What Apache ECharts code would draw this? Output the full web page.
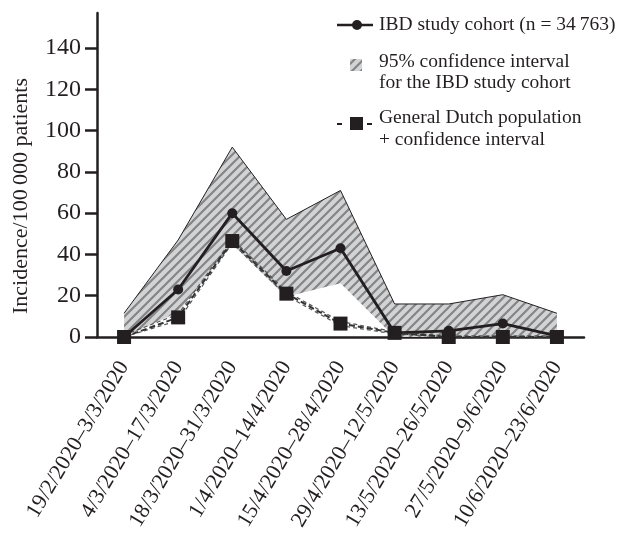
<!DOCTYPE html>
<html>
<head>
<meta charset="utf-8">
<script src="https://cdn.jsdelivr.net/npm/echarts@6/dist/echarts.min.js"></script>
<style>
html,body{margin:0;padding:0;background:#fff}
#chart{width:622px;height:543px}
</style>
</head>
<body>
<div id="chart"></div>
<script>
// two-week periods
var periods = ['19/2/2020–3/3/2020', '4/3/2020–17/3/2020', '18/3/2020–31/3/2020', '1/4/2020–14/4/2020',
  '15/4/2020–28/4/2020', '29/4/2020–12/5/2020', '13/5/2020–26/5/2020', '27/5/2020–9/6/2020', '10/6/2020–23/6/2020'];
// IBD study cohort + 95% CI
var ibdCohort = [0, 23, 60, 32, 43, 2, 3, 6.5, 0.5];
var ibdUpper  = [11.5, 47, 92, 57, 71, 16, 16, 20.5, 11.5];
var ibdLower  = [0, 12, 45, 19.5, 26, 0, 0, 0, 0];
// general Dutch population + CI
var dutchPop   = [0, 9.5, 46.5, 21, 6.5, 2, 0, 0, 0];
var dutchUpper = [1, 11, 47.5, 22, 7.5, 2.5, 0.5, 0.5, 0.5];
var dutchLower = [0, 8, 45.5, 20, 5.5, 1.5, 0, 0, 0];
var yTicks = [0, 20, 40, 60, 80, 100, 120, 140];

var ink = '#231f20';
var serif = '"Liberation Serif", "DejaVu Serif", serif';

// hatch pattern for the CI band
var hatch = document.createElement('canvas');
hatch.width = 9; hatch.height = 9;
var ctx = hatch.getContext('2d');
ctx.fillStyle = '#d2d3d5';
ctx.fillRect(0, 0, 9, 9);
ctx.strokeStyle = '#858585';
ctx.lineWidth = 2.2;
ctx.beginPath();
ctx.moveTo(0, 9); ctx.lineTo(9, 0);
ctx.moveTo(-4.5, 4.5); ctx.lineTo(4.5, -4.5);
ctx.moveTo(4.5, 13.5); ctx.lineTo(13.5, 4.5);
ctx.stroke();
var hatchFill = {image: hatch, repeat: 'repeat'};

// band height for stacking
var bandSize = ibdUpper.map(function(v, i){ return v - ibdLower[i]; });

var myChart = echarts.init(document.getElementById('chart'));
var option = {
  animation: false,
  grid: {left: 97, right: 38, top: 13, bottom: 206},
  xAxis: {
    type: 'category',
    data: periods,
    boundaryGap: true,
    axisLine: {lineStyle: {color: ink, width: 2.5}},
    axisTick: {alignWithLabel: true, length: 11, lineStyle: {color: ink, width: 2.5}},
    axisLabel: {rotate: 59, margin: 26, interval: 0, color: ink, fontFamily: serif, fontSize: 22}
  },
  yAxis: {
    type: 'value',
    min: 0,
    max: 157,
    splitLine: {show: false},
    axisLine: {show: true, lineStyle: {color: ink, width: 2.5}},
    axisTick: {show: true, length: 12, customValues: yTicks, lineStyle: {color: ink, width: 2.5}},
    axisLabel: {margin: 16, customValues: yTicks, color: ink, fontFamily: serif, fontSize: 24}
  },
  series: [
    {
      name: 'lowerCI', type: 'line', stack: 'ci', data: ibdLower,
      symbol: 'none', lineStyle: {opacity: 0}, silent: true
    },
    {
      name: '95% CI', type: 'line', stack: 'ci', data: bandSize,
      symbol: 'none', lineStyle: {color: ink, width: 1}, areaStyle: {color: hatchFill, opacity: 1}
    },
    {
      name: 'dutchUpper', type: 'line', data: dutchUpper, symbol: 'none',
      lineStyle: {color: '#555', width: 1.2, type: [4, 3]}
    },
    {
      name: 'dutchLower', type: 'line', data: dutchLower, symbol: 'none',
      lineStyle: {color: '#555', width: 1.2, type: [4, 3]}
    },
    {
      name: 'IBD study cohort', type: 'line', data: ibdCohort,
      symbol: 'circle', symbolSize: 10,
      lineStyle: {color: ink, width: 2.8}, itemStyle: {color: ink}
    },
    {
      name: 'General Dutch population', type: 'line', data: dutchPop,
      symbol: 'rect', symbolSize: 14,
      lineStyle: {color: '#333', width: 2, type: [6, 3]}, itemStyle: {color: ink}
    }
  ],
  graphic: [
    // y axis title
    {type: 'text', x: 21, y: 196, rotation: Math.PI / 2,
      style: {text: 'Incidence/100\u2009000 patients', fill: ink, font: '22px ' + serif, align: 'center', verticalAlign: 'middle'}},
    // legend
    {type: 'line', shape: {x1: 337, y1: 25, x2: 373, y2: 25}, style: {stroke: ink, lineWidth: 2.5}},
    {type: 'circle', shape: {cx: 357, cy: 25, r: 5}, style: {fill: ink}},
    {type: 'text', x: 379, y: 25,
      style: {text: 'IBD study cohort (n = 34\u2009763)', fill: ink, font: '19.5px ' + serif, verticalAlign: 'middle'}},
    {type: 'rect', shape: {x: 350, y: 59, width: 12, height: 12}, style: {fill: hatchFill}},
    {type: 'text', x: 379, y: 51,
      style: {text: '95% confidence interval\nfor the IBD study cohort', fill: ink, font: '19.5px ' + serif, lineHeight: 21, verticalAlign: 'top'}},
    {type: 'line', shape: {x1: 337, y1: 124, x2: 342, y2: 124}, style: {stroke: ink, lineWidth: 2}},
    {type: 'rect', shape: {x: 350, y: 117, width: 13, height: 13}, style: {fill: ink}},
    {type: 'line', shape: {x1: 367, y1: 124, x2: 372, y2: 124}, style: {stroke: ink, lineWidth: 2}},
    {type: 'text', x: 379, y: 107,
      style: {text: 'General Dutch population\n+ confidence interval', fill: ink, font: '19.5px ' + serif, lineHeight: 22, verticalAlign: 'top'}}
  ]
};
myChart.setOption(option);
</script>
</body>
</html>
